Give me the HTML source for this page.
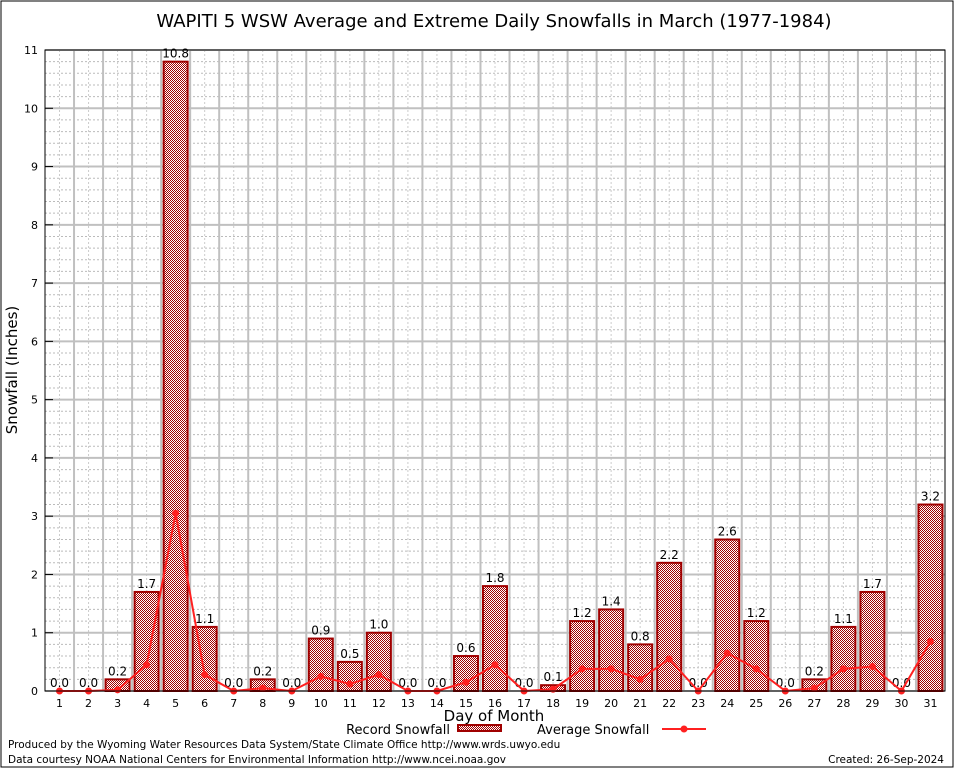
<!DOCTYPE html>
<html><head><meta charset="utf-8"><style>
body{margin:0;background:#fff}
svg text{font-family:"DejaVu Sans","Liberation Sans",sans-serif}
</style></head><body>
<svg width="954" height="768" viewBox="0 0 954 768">
<defs>
<pattern id="chk" width="2" height="2" patternUnits="userSpaceOnUse">
<rect width="2" height="2" fill="#fff"/><rect width="1" height="1" fill="#a00000"/><rect x="1" y="1" width="1" height="1" fill="#a00000"/>
</pattern>
</defs>
<rect x="1" y="1" width="952" height="766" fill="#fff" stroke="#000"/>
<text x="494" y="27" font-size="18" text-anchor="middle">WAPITI 5 WSW Average and Extreme Daily Snowfalls in March (1977-1984)</text>
<g id="grid"></g>
<g id="bars"></g>
<g id="avg"></g>
<g id="axes"></g>
<text transform="translate(17,370) rotate(-90)" font-size="15" text-anchor="middle">Snowfall (Inches)</text>
<text x="494" y="721" font-size="15" text-anchor="middle">Day of Month</text>
<g>
<text x="450" y="734" font-size="13" text-anchor="end">Record Snowfall</text>
<rect x="458" y="725" width="43" height="6" fill="url(#chk)" stroke="#a00000" stroke-width="2"/>
</g>
<g>
<text x="537" y="734" font-size="13">Average Snowfall</text>
<line x1="662" y1="729" x2="706" y2="729" stroke="#ff2020" stroke-width="2"/>
<circle cx="684" cy="729" r="3.5" fill="#ff2020"/>
</g>
<text x="8" y="748" font-size="10.5">Produced by the Wyoming Water Resources Data System/State Climate Office http://www.wrds.uwyo.edu</text>
<text x="8" y="763" font-size="10.5">Data courtesy NOAA National Centers for Environmental Information http://www.ncei.noaa.gov</text>
<text x="944" y="763" font-size="10.5" text-anchor="end">Created:  26-Sep-2024</text>
</svg>
<script>
const days=[1,2,3,4,5,6,7,8,9,10,11,12,13,14,15,16,17,18,19,20,21,22,23,24,25,26,27,28,29,30,31];
const recordValues=[0,0,0.2,1.7,10.8,1.1,0,0.2,0,0.9,0.5,1.0,0,0,0.6,1.8,0,0.1,1.2,1.4,0.8,2.2,0,2.6,1.2,0,0.2,1.1,1.7,0,3.2];
const averageValues=[0,0,0.02,0.45,3.05,0.28,0,0.05,0,0.25,0.12,0.28,0,0,0.15,0.45,0,0.03,0.38,0.38,0.2,0.55,0,0.65,0.38,0,0.05,0.38,0.42,0,0.85];
const yTicks=[0,1,2,3,4,5,6,7,8,9,10,11];
const NS="http://www.w3.org/2000/svg";
const L=45,R=945,T=50,B=691;
const x=d=>L+(d-0.5)*(R-L)/31;
const y=v=>B-v*(B-T)/11;
function mk(t,a,p){const e=document.createElementNS(NS,t);for(const k in a)e.setAttribute(k,a[k]);p.appendChild(e);return e;}
const grid=document.getElementById('grid'),bars=document.getElementById('bars'),avg=document.getElementById('avg'),axes=document.getElementById('axes');
for(let v=0;v<=11;v+=0.2){const yy=y(v);if(Math.abs(v-Math.round(v))>0.01){const g=mk('line',{x1:L,x2:R,y1:yy,y2:yy,stroke:'#bbb','stroke-dasharray':'2,2','stroke-width':1},grid);}}
for(let d=1;d<=31;d++){const xx=x(d);const g=mk('line',{x1:xx,x2:xx,y1:T,y2:B,stroke:'#ccc','stroke-dasharray':'2,2'},grid);}
yTicks.forEach(v=>{const g=mk('line',{x1:L,x2:R,y1:y(v),y2:y(v),stroke:'#c0c0c0','stroke-width':2},grid);
const t=mk('text',{x:L-7,y:y(v)+4,'font-size':11,'text-anchor':'end','font-family':'Liberation Serif,serif'},axes);t.textContent=v;
mk('line',{x1:L,x2:L+8,y1:y(v),y2:y(v),stroke:'#000'},axes);});
for(let d=1;d<31;d++){const g=mk('line',{x1:x(d+0.5),x2:x(d+0.5),y1:T,y2:B,stroke:'#c0c0c0','stroke-width':2},grid);}
days.forEach((d,i)=>{const v=recordValues[i];
if(v>0){const b=mk('rect',{x:x(d)-12,y:y(v),width:24,height:B-y(v),fill:'url(#chk)',stroke:'#a00000','stroke-width':2},bars);}
const t=mk('text',{x:x(d),y:y(v)-4,'font-size':12,'text-anchor':'middle'},bars);t.textContent=v.toFixed(1);
const xt=mk('text',{x:x(d),y:B+16,'font-size':11,'text-anchor':'middle','font-family':'Liberation Serif,serif'},axes);xt.textContent=d;});
const pl=mk('polyline',{points:days.map((d,i)=>x(d)+','+y(averageValues[i])).join(' '),fill:'none',stroke:'#ff2020','stroke-width':2},avg);

days.forEach((d,i)=>{const c=mk('circle',{cx:x(d),cy:y(averageValues[i]),r:3.5,fill:'#ff2020'},avg);});
const f=mk('rect',{x:L,y:T,width:R-L,height:B-T,fill:'none',stroke:'#000'},axes);
</script>
</body></html>
